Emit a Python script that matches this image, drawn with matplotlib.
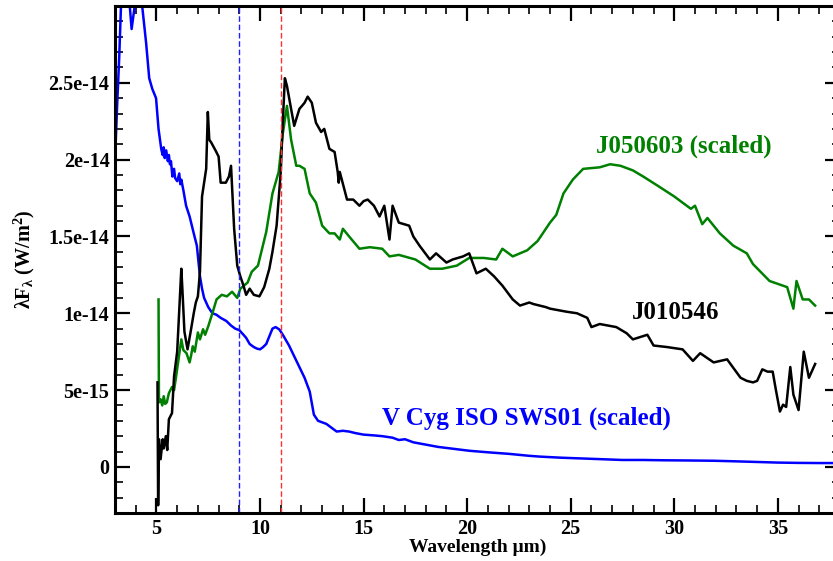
import matplotlib
matplotlib.use("Agg")
import matplotlib.pyplot as plt
from matplotlib.ticker import MultipleLocator, FixedLocator, FixedFormatter

plt.rcParams['font.family'] = ['Liberation Serif', 'DejaVu Serif']
plt.rcParams['font.weight'] = 'bold'
plt.rcParams['mathtext.fontset'] = 'custom'
plt.rcParams['mathtext.rm'] = 'Liberation Serif:bold'
plt.rcParams['mathtext.it'] = 'Liberation Serif:bold'
plt.rcParams['mathtext.bf'] = 'Liberation Serif:bold'

SCALE = 1e-15

# V Cyg ISO SWS01 (scaled)  [x in micron, y in 1e-15 W/m^2]
vcyg_x = [3.0, 3.1, 3.2, 3.3, 3.5, 3.7, 3.8, 3.9, 4.0, 4.2, 4.31, 4.5, 4.65, 4.8, 4.98,
          5.1, 5.23, 5.3, 5.35, 5.4, 5.47, 5.55, 5.6, 5.65, 5.7, 5.77, 5.85, 5.9, 6.0, 6.1,
          6.15, 6.2, 6.3, 6.43, 6.6, 6.8, 6.95, 7.1, 7.2, 7.3, 7.5, 7.7, 7.9, 8.1, 8.37,
          8.6, 8.8, 9.0, 9.2, 9.33, 9.5, 9.7, 9.85, 10.0, 10.15, 10.3, 10.45, 10.6, 10.75,
          10.93, 11.1, 11.4, 11.65, 11.9, 12.15, 12.4, 12.6, 12.8, 13.0, 13.2, 13.5, 13.7,
          14.0, 14.3, 14.6, 15.0, 15.5, 15.9, 16.4, 16.7, 17.0, 17.4, 18.0, 18.6, 19.2,
          20.1, 21.0, 22.0, 23.0, 23.5, 24.5, 25.5, 26.5, 27.5, 28.5, 29.5, 30.5, 31.9,
          33.0, 34.0, 35.0, 36.0, 37.0, 38.0]
vcyg_y = [20.0, 23.5, 26.6, 30.5, 32.0, 30.2, 28.5, 29.5, 30.5, 32.0, 30.0, 27.6, 25.3, 24.6, 24.0,
          22.0, 20.7, 20.3, 20.8, 20.1, 20.6, 19.9, 20.3, 19.7, 19.9, 18.9, 19.4, 18.8, 18.6, 19.1,
          18.4, 18.7, 18.0, 17.0, 16.3, 15.2, 14.4, 12.4, 11.6, 11.0, 10.4, 10.0, 9.9, 9.7, 9.5,
          9.2, 9.0, 8.9, 8.6, 8.4, 8.0, 7.8, 7.7, 7.65, 7.8, 8.0, 8.5, 9.0, 9.1,
          8.95, 8.6, 7.9, 7.2, 6.5, 5.8, 4.9, 3.4, 3.0, 2.9, 2.8, 2.5, 2.3,
          2.35, 2.3, 2.2, 2.1, 2.05, 2.0, 1.9, 1.75, 1.8, 1.6, 1.45, 1.3, 1.2,
          1.05, 0.95, 0.85, 0.72, 0.67, 0.6, 0.55, 0.5, 0.45, 0.45, 0.43, 0.42, 0.4,
          0.36, 0.32, 0.28, 0.26, 0.25, 0.25]

# J010546
j0105_x = [5.05, 5.08, 5.12, 5.2, 5.3, 5.35, 5.45, 5.52, 5.6, 5.75, 5.85, 6.0, 6.2, 6.25,
           6.35, 6.5, 6.65, 6.8, 6.9, 7.0, 7.1, 7.2, 7.4, 7.48, 7.55, 7.65, 7.85, 8.0,
           8.1, 8.35, 8.5, 8.6, 8.75, 8.9, 9.05, 9.2, 9.33, 9.5, 9.7, 9.97, 10.2, 10.45,
           10.6, 10.8, 11.0, 11.1, 11.2, 11.3, 11.5, 11.65, 11.9, 12.15, 12.3, 12.5, 12.7,
           12.95, 13.1, 13.35, 13.6, 13.75, 13.8, 13.85, 14.2, 14.5, 14.8, 15.0, 15.2, 15.5,
           15.77, 16.0, 16.25, 16.4, 16.7, 17.2, 17.4, 17.7, 18.2, 18.5, 19.0, 19.3, 19.8,
           20.1, 20.45, 20.9, 21.3, 21.7, 22.2, 22.55, 23.0, 23.2, 23.8, 24.0, 24.8, 25.3,
           25.8, 26.0, 26.4, 27.2, 27.7, 28.0, 28.7, 29.0, 29.65, 30.4, 30.9, 31.25, 31.9,
           32.55, 33.2, 33.5, 33.8, 34.0, 34.25, 34.5, 34.75, 34.9, 35.1, 35.25, 35.4, 35.6,
           35.75, 36.0, 36.25, 36.5, 36.8]
j0105_y = [5.5, -2.5, 1.8, 0.5, 1.8, 1.2, 2.0, 1.1, 3.1, 3.5, 5.9, 7.5, 12.9, 11.6,
           8.8, 7.65, 8.8, 10.0, 10.7, 11.1, 12.7, 17.6, 19.4, 23.1, 21.3, 21.1, 20.6, 20.2,
           18.5, 18.5, 18.9, 19.6, 15.5, 13.1, 12.4, 11.8, 11.2, 11.6, 11.2, 11.1, 11.7, 12.9,
           14.0, 15.7, 19.2, 22.5, 25.3, 24.8, 23.3, 22.2, 23.3, 23.7, 24.1, 23.7, 22.4,
           21.8, 22.0, 20.7, 20.5, 19.2, 18.5, 19.2, 17.4, 17.4, 17.0, 17.3, 17.4, 17.0,
           16.3, 17.0, 14.8, 17.0, 15.9, 15.7, 15.0, 14.4, 13.5, 13.9, 13.3, 13.5, 13.7,
           13.9, 12.6, 12.9, 12.4, 11.8, 10.9, 10.5, 10.7, 10.6, 10.4, 10.3, 10.1, 10.0,
           9.7, 9.1, 9.3, 9.1, 8.7, 8.3, 8.6, 7.9, 7.8, 7.65, 6.9, 7.4, 6.8,
           7.0, 5.8, 5.6, 5.5, 5.6, 6.35, 6.2, 6.2, 5.05, 3.6, 4.05, 3.9, 6.5,
           4.7, 3.7, 7.5, 5.8, 6.7]

# J050603 (scaled)
j0506_x = [5.1, 5.12, 5.2, 5.28, 5.35, 5.42, 5.5, 5.6, 5.75, 5.85, 5.95, 6.2, 6.3, 6.45,
           6.6, 6.68, 6.75, 6.85, 7.0, 7.1, 7.25, 7.35, 7.5, 7.7, 7.9, 8.15, 8.4, 8.65,
           8.9, 9.05, 9.4, 9.6, 9.9, 10.3, 10.6, 10.9, 11.1, 11.3, 11.5, 11.75, 11.9, 12.15,
           12.4, 12.7, 13.0, 13.35, 13.6, 13.85, 14.0, 14.3, 14.8, 15.3, 15.9, 16.25, 16.7,
           17.5, 18.2, 18.8, 19.5, 20.1, 20.8, 21.4, 21.7, 22.2, 22.9, 23.4, 24.0, 24.3,
           24.65, 25.1, 25.6, 26.4, 26.9, 27.4, 28.0, 28.5, 29.2, 30.0, 30.8, 31.0, 31.35,
           31.6, 32.2, 32.85, 33.5, 33.8, 34.6, 35.45, 35.75, 35.9, 36.2, 36.5, 36.8]
j0506_y = [10.9, 4.2, 4.4, 4.0, 4.6, 4.1, 4.2, 4.8, 5.2, 5.0, 5.9, 8.3, 7.6, 7.4,
           6.8, 7.3, 7.85, 7.5, 8.75, 8.3, 8.96, 8.6, 9.15, 10.0, 10.9, 11.2, 11.1, 11.4,
           11.0, 11.6, 12.0, 12.7, 13.1, 15.3, 17.8, 19.2, 21.7, 23.5, 21.3, 19.6, 19.6, 19.4,
           17.8, 17.2, 15.7, 15.2, 15.2, 14.8, 15.5, 15.0, 14.2, 14.3, 14.2, 13.7, 13.8,
           13.5, 12.9, 12.9, 13.1, 13.6, 13.6, 13.5, 14.2, 13.7, 14.1, 14.7, 15.9, 16.4,
           17.8, 18.7, 19.4, 19.5, 19.7, 19.6, 19.3, 18.9, 18.3, 17.6, 16.8, 17.0, 15.8,
           16.2, 15.2, 14.4, 13.9, 13.2, 12.1, 11.7, 10.3, 12.1, 10.9, 10.9, 10.5]

vlines_x = [9.0, 11.0]
vlines_colors = ['#2020ff', '#ff3030']

ytick_vals = [0, 5e-15, 1e-14, 1.5e-14, 2e-14, 2.5e-14]
ytick_labels = ['0', '5e-15', '1e-14', '1.5e-14', '2e-14', '2.5e-14']
xtick_vals = [5, 10, 15, 20, 25, 30, 35]

fig = plt.figure(figsize=(8.33, 5.61), dpi=100)
ax = fig.add_axes([0.1381, 0.0856, 0.8703, 0.9037])

ax.plot(vcyg_x, [v * SCALE for v in vcyg_y], color='#0000ff', lw=1.8)
ax.plot(j0506_x, [v * SCALE for v in j0506_y], color='#008000', lw=1.8)
ax.plot(j0105_x, [v * SCALE for v in j0105_y], color='black', lw=1.8)

for xv, c in zip(vlines_x, vlines_colors):
    ax.axvline(xv, color=c, lw=1.0, ls=(0, (4, 2)))

ax.set_xlim(3, 38)
ax.set_ylim(-3e-15, 3e-14)

ax.xaxis.set_major_locator(FixedLocator(xtick_vals))
ax.xaxis.set_minor_locator(MultipleLocator(1))
ax.yaxis.set_major_locator(FixedLocator(ytick_vals))
ax.yaxis.set_major_formatter(FixedFormatter(ytick_labels))
ax.yaxis.set_minor_locator(MultipleLocator(1e-15))

ax.tick_params(which='both', direction='in', top=True, right=True)
ax.tick_params(which='major', length=11, width=1.6, labelsize=14.5, pad=4)
ax.tick_params(which='minor', length=5.5, width=1.2)
for s in ax.spines.values():
    s.set_linewidth(2.2)

ax.set_xlabel('Wavelength μm)', fontsize=14, fontweight='bold', labelpad=0)
ax.set_ylabel('λF$_{λ}$ (W/m$^{2}$)', fontsize=14.5, fontweight='bold', labelpad=8)

ax.text(30.48, 2.09e-14, 'J050603 (scaled)', color='#008000', fontsize=18,
        fontweight='bold', ha='center', va='center')
ax.text(30.05, 1.005e-14, 'J010546', color='black', fontsize=18,
        fontweight='bold', ha='center', va='center')
ax.text(22.87, 3.15e-15, 'V Cyg ISO SWS01 (scaled)', color='#0000ff', fontsize=18,
        fontweight='bold', ha='center', va='center')

fig.savefig('out.png', dpi=100)
